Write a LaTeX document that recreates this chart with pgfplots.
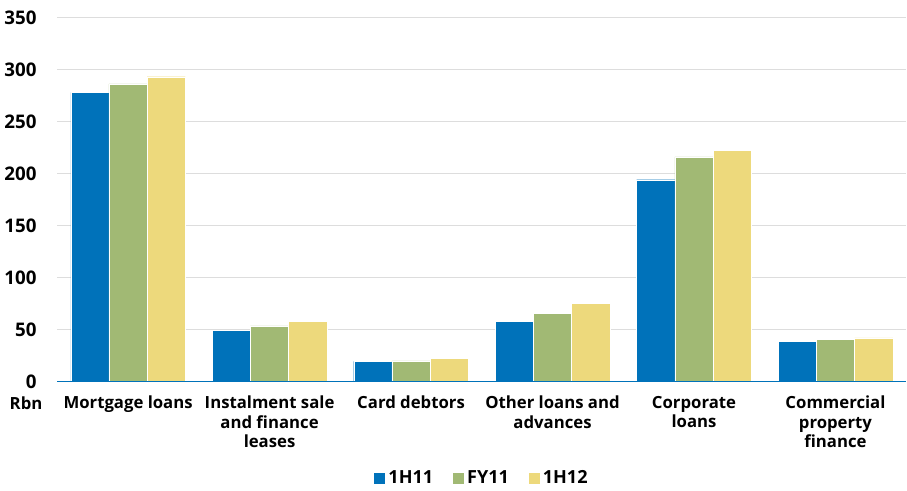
\documentclass[border=0pt]{standalone}
\usepackage{fontspec}
\setmainfont{Open Sans}
\usepackage{pgfplots}
\pgfplotsset{compat=1.18}
\definecolor{c1h11}{HTML}{0072BA}
\definecolor{cfy11}{HTML}{A1B974}
\definecolor{c1h12}{HTML}{EDD97C}
\definecolor{gridgray}{HTML}{DDDDDD}

\begin{document}
\begin{tikzpicture}[font=\bfseries\fontsize{12.5}{14.5}\selectfont]
\begin{axis}[
    width=634pt, height=272pt,
    scale only axis,
    ybar=0pt,
    bar width=0.27,
    xmin=-0.5, xmax=5.5,
    ymin=0, ymax=350,
    ytick={0,50,...,350},
    xtick={0,...,5},
    xticklabels={Mortgage loans, Instalment sale\\and finance\\leases, Card debtors, Other loans and\\advances, Corporate\\loans, Commercial\\property\\finance},
    xticklabel style={align=center, anchor=north, yshift=-3pt,
      font=\bfseries\fontsize{12.5}{14.5}\selectfont},
    yticklabel style={xshift=-12pt, font=\bfseries\fontsize{14}{16}\selectfont},
    major x tick style={draw=none},
    major y tick style={draw=none},
    ymajorgrids,
    grid style={gridgray, line width=1.2pt},
    axis y line*=left,
    y axis line style={draw=none},
    axis x line*=bottom,
    x axis line style={draw=none},
    /pgf/number format/assume math mode=true,
    legend style={at={(0.5,-0.228)}, anchor=north, draw=none, legend columns=3,
      font=\bfseries\fontsize{13.5}{15}\selectfont,
      /tikz/every even column/.append style={column sep=12pt}},
    legend image code/.code={\fill[#1] (0pt,-4.5pt) rectangle (9pt,4.5pt);},
    clip=false,
  ]
\addplot[fill=c1h11, draw=white, line width=0.3pt] coordinates {(0,278) (1,49) (2,19.5) (3,58) (4,194) (5,38.5)};
\addplot[fill=cfy11, draw=white, line width=0.3pt] coordinates {(0,286) (1,53.5) (2,20) (3,65.5) (4,216) (5,40.5)};
\addplot[fill=c1h12, draw=white, line width=0.3pt] coordinates {(0,293) (1,58) (2,22.5) (3,75) (4,222.5) (5,42)};
\legend{1H11, FY11, 1H12}
\draw[c1h11, line width=1.2pt] (axis cs:-0.5,0) -- (axis cs:5.5,0);
\node[anchor=north east, inner sep=0pt] at ([xshift=-11pt, yshift=-11pt]axis cs:-0.5,0) {Rbn};
\path (rel axis cs:0,1) ++(0,13pt);
\end{axis}
\end{tikzpicture}
\end{document}
